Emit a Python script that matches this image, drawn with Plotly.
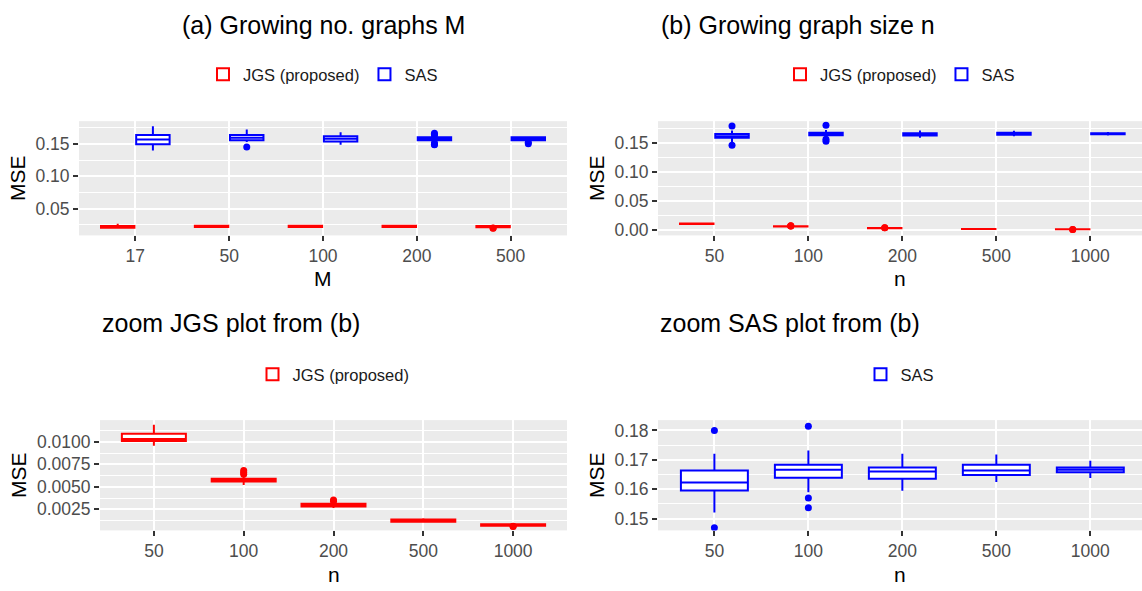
import plotly.graph_objects as go

FONT = "Liberation Sans, Arial, sans-serif"
RED = "#FF0000"
BLUE = "#0000FF"
W, H = 1142, 591

# ---------------- data ----------------
M_cats = ["17", "50", "100", "200", "500"]
n_cats = ["50", "100", "200", "500", "1000"]

# (a) JGS vs number of graphs M
m_jgs_lower = [0.0190, 0.0205, 0.0205, 0.0205, 0.0205]
m_jgs_q1 = [0.0205, 0.0215, 0.0215, 0.0215, 0.0212]
m_jgs_median = [0.0220, 0.0225, 0.0224, 0.0224, 0.0222]
m_jgs_q3 = [0.0232, 0.0234, 0.0233, 0.0233, 0.0232]
m_jgs_upper = [0.0265, 0.0245, 0.0243, 0.0243, 0.0242]
m_jgs_out = [[None], [None], [None], [None], [0.0195, 0.0200]]

# (a) SAS vs number of graphs M
m_sas_lower = [0.1397, 0.1530, 0.1485, 0.1530, 0.1535]
m_sas_q1 = [0.1495, 0.1555, 0.1535, 0.1555, 0.1555]
m_sas_median = [0.1566, 0.1595, 0.1577, 0.1578, 0.1578]
m_sas_q3 = [0.1638, 0.1635, 0.1618, 0.1603, 0.1600]
m_sas_upper = [0.1772, 0.1720, 0.1680, 0.1620, 0.1618]
m_sas_out = [[None], [0.1450], [None], [0.1665, 0.1645, 0.1635, 0.1512, 0.1495, 0.1485], [0.1526, 0.1500]]

# (b)/(c) JGS vs graph size n
n_jgs_lower = [0.00957, 0.00520, 0.00265, 0.00100, 0.00062]
n_jgs_q1 = [0.01010, 0.00560, 0.00280, 0.00112, 0.00066]
n_jgs_median = [0.01030, 0.00575, 0.00297, 0.00123, 0.00072]
n_jgs_q3 = [0.01090, 0.00590, 0.00310, 0.00135, 0.00082]
n_jgs_upper = [0.01190, 0.00620, 0.00320, 0.00150, 0.00090]
n_jgs_out = [[None], [0.0064, 0.0066, 0.0068], [0.00340, 0.00352], [None], [0.00058, 0.00060]]

# (b)/(d) SAS vs graph size n
n_sas_lower = [0.1521, 0.1590, 0.1595, 0.1625, 0.1638]
n_sas_q1 = [0.1596, 0.1639, 0.1636, 0.1648, 0.1658]
n_sas_median = [0.1623, 0.1666, 0.1660, 0.1664, 0.1666]
n_sas_q3 = [0.1664, 0.1683, 0.1674, 0.1683, 0.1674]
n_sas_upper = [0.1721, 0.1732, 0.1721, 0.1718, 0.1697]
n_sas_out = [[0.1800, 0.1469], [0.1814, 0.1570, 0.1537], [None], [None], [None]]

panel_titles = ["(a) Growing no. graphs M", "(b) Growing graph size n",
                "zoom JGS plot from (b)", "zoom SAS plot from (b)"]
x_titles = ["M", "n", "n", "n"]
y_title = "MSE"


def box(name, cats, lo, q1, med, q3, up, out, color, panel, leg):
    sfx = "" if panel == 1 else str(panel)
    return go.Box(
        name=name, x=cats, y=out, lowerfence=lo, q1=q1, median=med, q3=q3,
        upperfence=up, boxpoints="outliers", jitter=0, pointpos=0,
        line=dict(color=color, width=2), fillcolor="white",
        marker=dict(color=color, size=7), whiskerwidth=0,
        xaxis="x" + sfx, yaxis="y" + sfx, legend=leg,
        alignmentgroup="p%d" % panel, offsetgroup="p%d_%s" % (panel, name),
    )


traces = [
    box("JGS (proposed)", M_cats, m_jgs_lower, m_jgs_q1, m_jgs_median, m_jgs_q3, m_jgs_upper, m_jgs_out, RED, 1, "legend"),
    box("SAS", M_cats, m_sas_lower, m_sas_q1, m_sas_median, m_sas_q3, m_sas_upper, m_sas_out, BLUE, 1, "legend"),
    box("JGS (proposed)", n_cats, n_jgs_lower, n_jgs_q1, n_jgs_median, n_jgs_q3, n_jgs_upper, n_jgs_out, RED, 2, "legend2"),
    box("SAS", n_cats, n_sas_lower, n_sas_q1, n_sas_median, n_sas_q3, n_sas_upper, n_sas_out, BLUE, 2, "legend2"),
    box("JGS (proposed)", n_cats, n_jgs_lower, n_jgs_q1, n_jgs_median, n_jgs_q3, n_jgs_upper, n_jgs_out, RED, 3, "legend3"),
    box("SAS", n_cats, n_sas_lower, n_sas_q1, n_sas_median, n_sas_q3, n_sas_upper, n_sas_out, BLUE, 4, "legend4"),
]

fig = go.Figure(traces)

# panel geometry in pixels: (left, right, top, bottom)
panels = [(79, 567, 122, 237), (658, 1142, 122, 237), (100, 567, 423, 534), (658, 1142, 423, 534)]
xranges = [[-0.6, 4.6], [-0.6, 4.55], [-0.6, 4.6], [-0.6, 4.55]]
yranges = [[0.0085, 0.185], [-0.0098, 0.1885], [0.00015, 0.01241], [0.1460, 0.1835]]
ydt = [0.05, 0.05, 0.0025, 0.01]
yfmt = [".2f", ".2f", ".4f", ".2f"]
xtitle_y = [280, 280, 578, 578]

tickfont = dict(family=FONT, size=17.5, color="#4D4D4D")
titlefont = dict(family=FONT, size=21, color="black")
layout = dict(
    width=W, height=H, margin=dict(l=0, r=0, t=0, b=0),
    paper_bgcolor="white", plot_bgcolor="#EBEBEB",
    boxmode="group", boxgap=0.25, boxgroupgap=0.05,
    font=dict(family=FONT),
)
annotations = []
for i, (l, r, t, b) in enumerate(panels):
    sfx = "" if i == 0 else str(i + 1)
    layout["xaxis" + sfx] = dict(
        domain=[l / W, r / W], anchor="y" + sfx, type="category", range=xranges[i],
        showgrid=True, gridcolor="white", gridwidth=1.6, zeroline=False,
        ticks="outside", ticklen=5, tickwidth=1.5, tickcolor="#333333",
        tickfont=tickfont, showline=False,
    )
    layout["yaxis" + sfx] = dict(
        domain=[1 - b / H, 1 - t / H], anchor="x" + sfx, range=yranges[i],
        tick0=0, dtick=ydt[i], tickformat=yfmt[i],
        showgrid=True, gridcolor="white", gridwidth=1.6, zeroline=False,
        minor=dict(showgrid=True, gridcolor="white", gridwidth=0.8, tick0=0, dtick=ydt[i] / 2),
        ticks="outside", ticklen=5, tickwidth=1.5, tickcolor="#333333",
        tickfont=tickfont, title=dict(text=y_title, font=titlefont, standoff=4),
        showline=False,
    )
    leg_y = 1 - (75 if i < 2 else 377) / H
    layout["legend" + sfx] = dict(
        orientation="h", x=(l + r) / 2 / W, xanchor="center", y=leg_y, yanchor="middle",
        font=dict(family=FONT, size=16.5, color="#1A1A1A"), bgcolor="rgba(0,0,0,0)",
        itemclick=False,
    )
    annotations.append(dict(text=x_titles[i], x=(l + r) / 2 / W, xanchor="center",
                            y=1 - xtitle_y[i] / H, yanchor="middle", xref="paper", yref="paper",
                            showarrow=False, font=titlefont))

title_pos = [(323.5 / W, "center", 25), (659 / W, "left", 25), (100 / W, "left", 325), (658 / W, "left", 325)]
for (x, anc, y), txt in zip(title_pos, panel_titles):
    annotations.append(dict(text=txt, x=x, xanchor=anc, y=1 - y / H, yanchor="middle",
                            xref="paper", yref="paper", showarrow=False,
                            font=dict(family=FONT, size=25, color="black")))
layout["annotations"] = annotations
fig.update_layout(**layout)
fig.write_html("out.html", config={"displayModeBar": False},
               post_script="document.body.style.margin='0';document.body.style.padding='0';")
